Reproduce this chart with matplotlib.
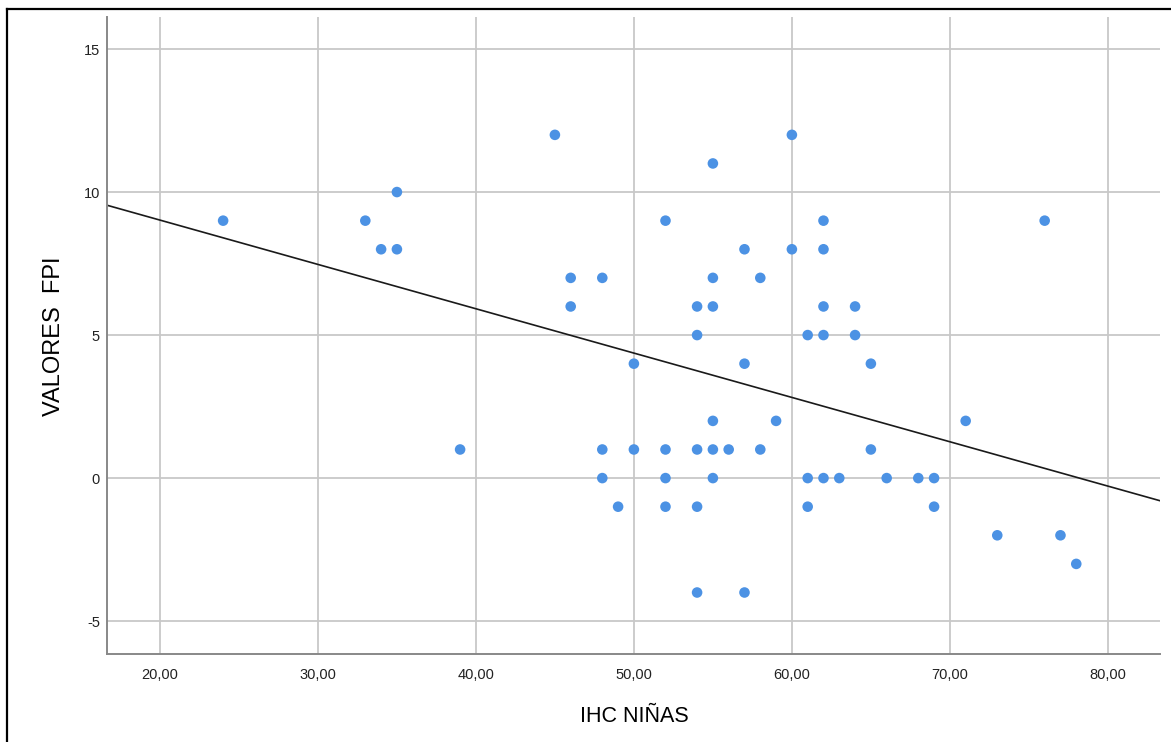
import numpy as np
import matplotlib
matplotlib.use("Agg")
import matplotlib.pyplot as plt
from matplotlib.lines import Line2D

plt.rcParams['font.family'] = ['Liberation Sans', 'DejaVu Sans']
plt.rcParams['axes.unicode_minus'] = False

# IHC niñas vs valores FPI
ihc = [24, 33, 34, 35, 35, 39, 45, 46, 46, 48, 48, 48, 49, 50, 50,
       52, 52, 52, 52, 54, 54, 54, 54, 54, 55, 55, 55, 55, 55, 55,
       56, 57, 57, 57, 58, 58, 59, 60, 60, 61, 61, 61, 62, 62, 62,
       62, 62, 63, 64, 64, 65, 65, 66, 68, 69, 69, 71, 73, 76, 77, 78]
fpi = [9, 9, 8, 10, 8, 1, 12, 7, 6, 7, 1, 0, -1, 4, 1,
       9, 1, 0, -1, 6, 5, 1, -1, -4, 11, 7, 6, 2, 1, 0,
       1, 8, 4, -4, 7, 1, 2, 12, 8, 5, 0, -1, 9, 8, 6,
       5, 0, 0, 6, 5, 4, 1, 0, 0, 0, -1, 2, -2, 9, -2, -3]

# recta de ajuste (total)
fit_intercept = 12.12
fit_slope = -0.155

x_ticks = [20, 30, 40, 50, 60, 70, 80]
x_ticklabels = ["20,00", "30,00", "40,00", "50,00", "60,00", "70,00", "80,00"]
y_ticks = [-5, 0, 5, 10, 15]

W, H = 1171, 742
fig = plt.figure(figsize=(W / 100, H / 100), dpi=100, facecolor='white')
ax = fig.add_axes([107 / W, 1 - 654 / H, (1160 - 107) / W, (654 - 17) / H])

xmin, xmax = 16.65, 83.3
ymin, ymax = -6.15, 16.12

ax.grid(True, color='#c8c8c8', linewidth=1.3, zorder=0)
ax.set_axisbelow(True)

ax.scatter(ihc, fpi, s=58, color='#4c92e4', edgecolors='none', zorder=3)

xs = np.array([xmin, xmax])
ax.plot(xs, fit_intercept + fit_slope * xs, color='#1a1a1a', linewidth=1.2, zorder=2)

ax.set_xlim(xmin, xmax)
ax.set_ylim(ymin, ymax)
ax.set_xticks(x_ticks)
ax.set_xticklabels(x_ticklabels)
ax.set_yticks(y_ticks)
ax.tick_params(length=0, labelsize=10.5, colors='#222222')
ax.tick_params(axis='x', pad=10)
ax.tick_params(axis='y', pad=5)

for side in ('top', 'right'):
    ax.spines[side].set_visible(False)
for side in ('left', 'bottom'):
    ax.spines[side].set_color('#888888')
    ax.spines[side].set_linewidth(1.4)

fig.text(634 / W, 1 - 716 / H, "IHC NIÑAS", fontsize=15.5, ha='center', va='center')
fig.text(54 / W, 1 - 336 / H, "VALORES  FPI", fontsize=17, ha='center', va='center',
         rotation=90)

# marco exterior (izquierda y arriba)
fig.add_artist(Line2D([7 / W, 7 / W], [0, 1 - 9 / H], color='black', linewidth=1.6))
fig.add_artist(Line2D([7 / W, 1], [1 - 9 / H, 1 - 9 / H], color='black', linewidth=1.6))

fig.savefig("out.png", dpi=100, facecolor='white')
